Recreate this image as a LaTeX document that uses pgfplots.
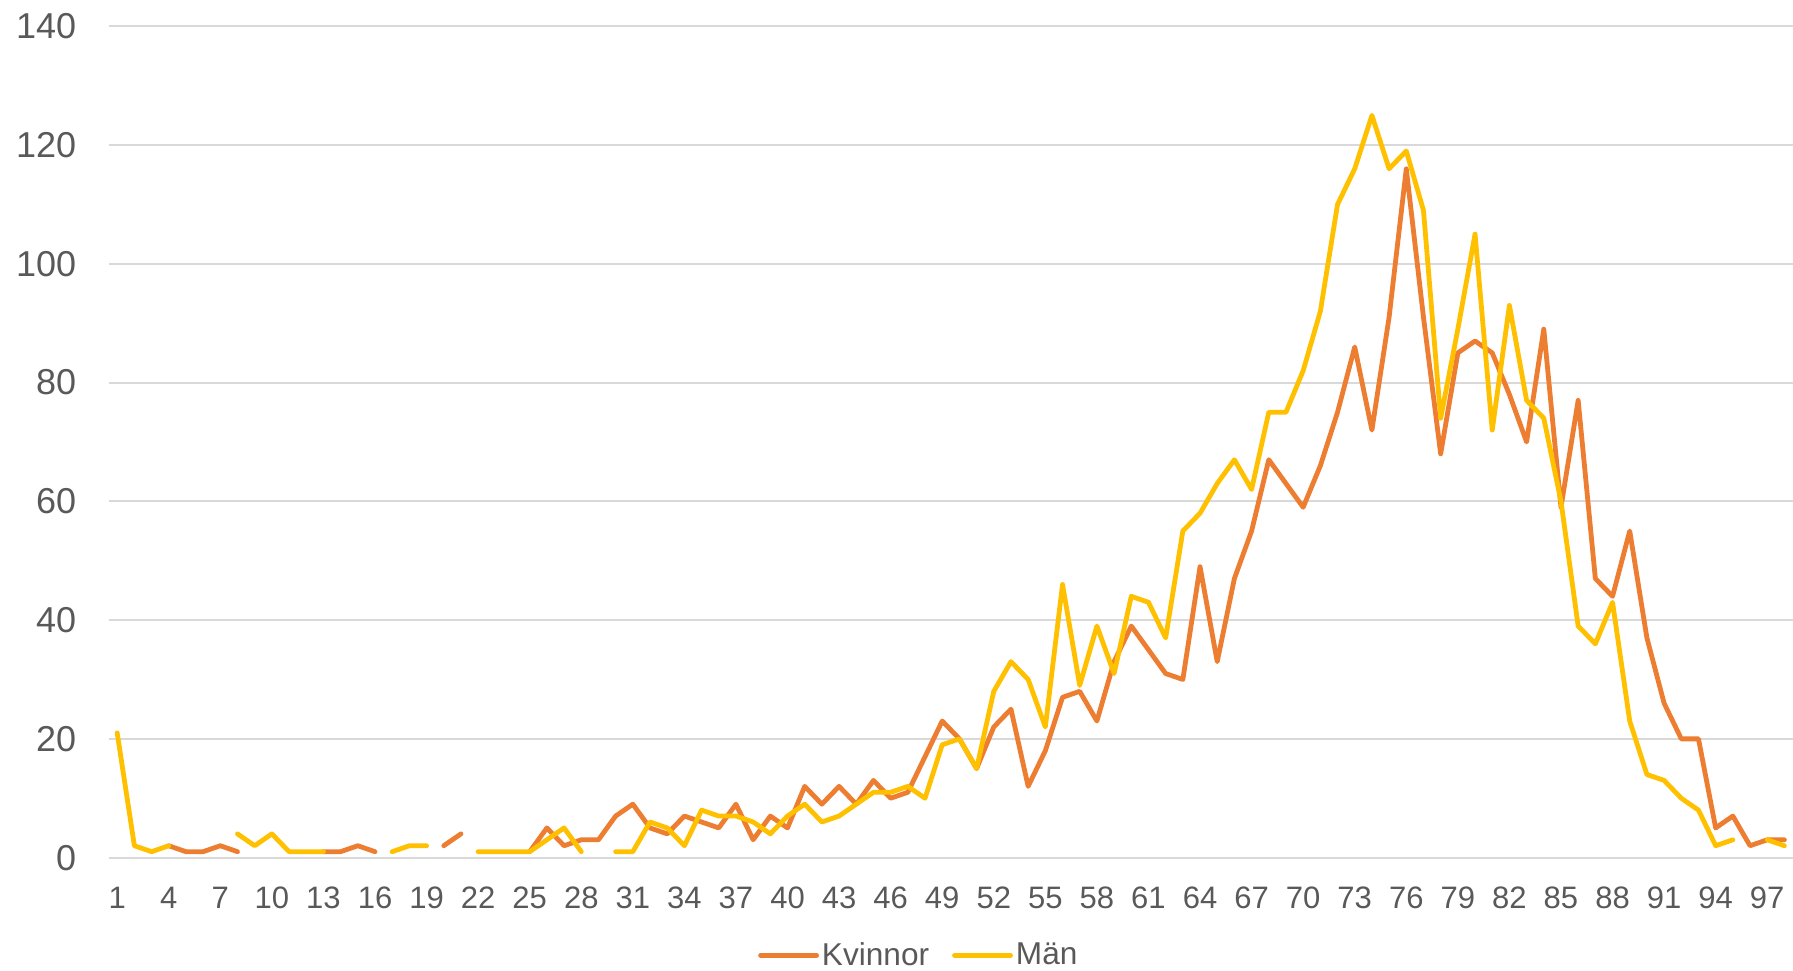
\documentclass[border=0pt]{standalone}
\usepackage{fontspec}
\setmainfont{Liberation Sans}
\usepackage{pgfplots}
\usepackage{pgfplotstable}
\pgfplotsset{compat=1.18}
\definecolor{kv}{HTML}{ED7D31}
\definecolor{mn}{HTML}{FFC000}
\definecolor{gridc}{HTML}{D9D9D9}
\definecolor{txt}{HTML}{595959}

\pgfplotstableread{
k kv mn
1 nan 21
2 nan 2
3 nan 1
4 2 2
5 1 nan
6 1 nan
7 2 nan
8 1 4
9 nan 2
10 nan 4
11 nan 1
12 nan 1
13 1 1
14 1 nan
15 2 nan
16 1 nan
17 nan 1
18 nan 2
19 nan 2
20 2 nan
21 4 nan
22 nan 1
23 nan 1
24 nan 1
25 1 1
26 5 3
27 2 5
28 3 1
29 3 nan
30 7 1
31 9 1
32 5 6
33 4 5
34 7 2
35 6 8
36 5 7
37 9 7
38 3 6
39 7 4
40 5 7
41 12 9
42 9 6
43 12 7
44 9 9
45 13 11
46 10 11
47 11 12
48 17 10
49 23 19
50 20 20
51 15 15
52 22 28
53 25 33
54 12 30
55 18 22
56 27 46
57 28 29
58 23 39
59 33 31
60 39 44
61 35 43
62 31 37
63 30 55
64 49 58
65 33 63
66 47 67
67 55 62
68 67 75
69 63 75
70 59 82
71 66 92
72 75 110
73 86 116
74 72 125
75 91 116
76 116 119
77 91 109
78 68 74
79 85 89
80 87 105
81 85 72
82 78 93
83 70 77
84 89 74
85 59 60
86 77 39
87 47 36
88 44 43
89 55 23
90 37 14
91 26 13
92 20 10
93 20 8
94 5 2
95 7 3
96 2 nan
97 3 3
98 3 2
}\datatable

\begin{document}
\begin{tikzpicture}
\begin{axis}[
  name=ax,
  scale only axis,
  width=842.2pt, height=415.65pt,
  xmin=0.5, xmax=98.5, ymin=0, ymax=140,
  xtick={1,4,...,97}, ytick={0,20,...,140},
  axis line style={draw=none},
  major tick length=0pt,
  ymajorgrids, grid style={gridc, line width=1pt},
  tick label style={text=txt},
  /pgf/number format/assume math mode=true,
  xticklabel style={font=\fontsize{15.5}{18}\selectfont, anchor=north, inner sep=0pt, yshift=-14.5pt},
  yticklabel style={font=\fontsize{18}{21}\selectfont, anchor=east, inner sep=0pt, xshift=-16pt},
  unbounded coords=jump,
  legend columns=2,
  legend style={at={(0.4813,-0.1175)}, anchor=center, draw=none, fill=none,
    font=\fontsize{15.8}{19}\selectfont, text=txt,
    nodes={inner sep=1.5pt},
    /tikz/every even column/.append style={column sep=10pt}},
  legend image code/.code={\draw[#1, line cap=round] (0pt,0pt) -- (28pt,0pt);},
]
\addplot[kv, line width=2.4pt, line join=round, line cap=round] table[x=k, y=kv] {\datatable};
\addlegendentry{Kvinnor}
\addplot[mn, line width=2.4pt, line join=round, line cap=round] table[x=k, y=mn] {\datatable};
\addlegendentry{Män}
\end{axis}
\pgfresetboundingbox
\path[use as bounding box] ([xshift=-54.3pt, yshift=-56.2pt]ax.south west) rectangle ([yshift=13.15pt]ax.north east);
\end{tikzpicture}
\end{document}
